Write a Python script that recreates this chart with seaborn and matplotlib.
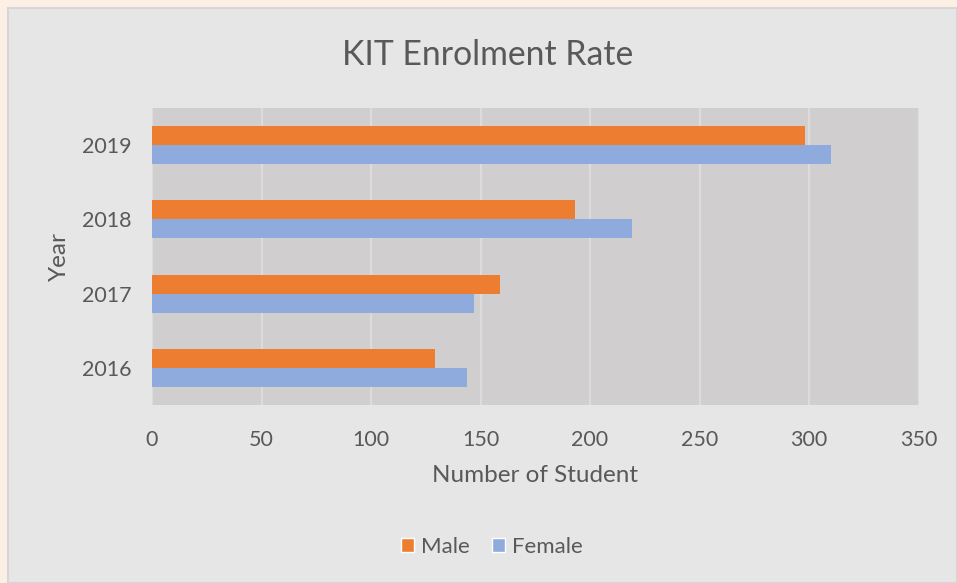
import matplotlib
matplotlib.use("Agg")
import matplotlib.pyplot as plt
import matplotlib.patches as mpatches
import seaborn as sns
import pandas as pd

years = ["2019", "2018", "2017", "2016"]
male = [298, 193, 159, 129]
female = [310, 219, 147, 144]
series_names = ["Male", "Female"]
colors = ["#ED7D31", "#8FAADC"]
x_ticks = [0, 50, 100, 150, 200, 250, 300, 350]

df = pd.DataFrame({
    "Year": years * 2,
    "Count": male + female,
    "Gender": [series_names[0]] * len(years) + [series_names[1]] * len(years),
})

sns.set_theme(style="white")
plt.rcParams["font.family"] = ["Lato", "DejaVu Sans"]
text_color = "#595959"

W, H = 957, 583
fig = plt.figure(figsize=(W / 100, H / 100), dpi=100)
fig.patch.set_facecolor("#fcf0e5")
# chart panel
fig.patches.append(mpatches.Rectangle((8 / W, 0), 1 - 8 / W, 1 - 8 / H, transform=fig.transFigure,
                                      facecolor="#e6e6e6", edgecolor="#d6d6d6", linewidth=1.5, zorder=-10))

ax = fig.add_axes([152 / W, 1 - 405 / H, (918.5 - 152) / W, (405 - 108) / H])
ax.set_zorder(1)
ax.set_facecolor("#d0cece")

sns.barplot(data=df, y="Year", x="Count", hue="Gender", order=years, hue_order=series_names,
            palette=colors, orient="h", width=0.51, gap=0, ax=ax, saturation=1,
            edgecolor="none", legend=False)

ax.set_xlim(0, 350)
ax.set_ylim(3.5, -0.5)
ax.set_xticks(x_ticks)
ax.set_xticklabels([str(t) for t in x_ticks])
ax.grid(axis="x", color="#dcdcdc", linewidth=1.6)
ax.set_axisbelow(True)
for s in ax.spines.values():
    s.set_visible(False)
ax.tick_params(axis="both", length=0, colors=text_color, labelsize=15.5)
ax.tick_params(axis="x", pad=18)
ax.tick_params(axis="y", pad=15)

ax.set_xlabel("Number of Student", fontsize=17.5, color=text_color, labelpad=11)
ax.set_ylabel("Year", fontsize=17.5, color=text_color, labelpad=8)

fig.text(488 / W, 1 - 55 / H, "KIT Enrolment Rate", ha="center", va="center",
         fontsize=24.3, color=text_color)

handles = [mpatches.Patch(facecolor=c, label=n) for c, n in zip(colors, series_names)]
leg = fig.legend(handles=handles, loc="center", bbox_to_anchor=(492 / W, 1 - 547 / H), ncol=2,
                 frameon=False, fontsize=16, handlelength=0.6, handleheight=0.6,
                 handletextpad=0.3, columnspacing=1.0)
for t in leg.get_texts():
    t.set_color(text_color)

fig.savefig("out.png", dpi=100, facecolor=fig.get_facecolor())
